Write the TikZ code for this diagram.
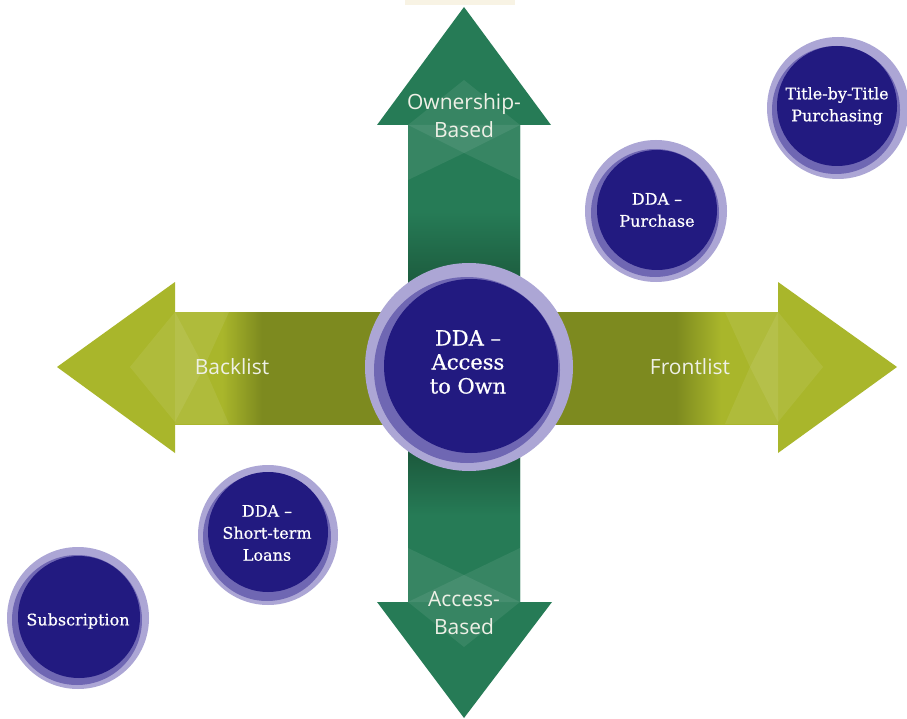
\documentclass[tikz,border=0pt]{standalone}
\usepackage{fontspec}
\newfontfamily\labelfont{Open Sans}
\newfontfamily\circfont{DejaVu Serif}[FakeBold=0.6]
\definecolor{grn}{HTML}{267B56}
\definecolor{grndark}{HTML}{1C5A3D}
\definecolor{olv}{HTML}{A9B62B}
\definecolor{olvdark}{HTML}{7D8A1F}
\definecolor{ringlight}{HTML}{ACA6D5}
\definecolor{ringmid}{HTML}{6F67B3}
\definecolor{navy}{HTML}{221A80}
\definecolor{labtxt}{HTML}{EEF0E6}
\definecolor{cream}{HTML}{F8F3E4}
\pgfdeclarehorizontalshading{olvshaft}{100bp}{color(0bp)=(olv); color(25bp)=(olv);
  color(28.9bp)=(olv); color(32.2bp)=(olvdark); color(66.5bp)=(olvdark);
  color(70.3bp)=(olv); color(75bp)=(olv); color(100bp)=(olv)}
\pgfdeclareverticalshading{grnshaft}{100bp}{color(0bp)=(grn); color(25bp)=(grn);
  color(34.1bp)=(grn); color(40.5bp)=(grndark); color(58.1bp)=(grndark);
  color(65.9bp)=(grn); color(75bp)=(grn); color(100bp)=(grn)}
\tikzset{
  arrlabel/.style={text=labtxt, font=\labelfont\fontsize{21}{28}\selectfont, align=center, inner sep=0pt},
  circtxt/.style={text=white, font=\circfont\fontsize{16}{22}\selectfont, align=center, inner sep=0pt},
  bigtxt/.style={text=white, font=\circfont\fontsize{21}{24}\selectfont, align=center, inner sep=0pt},
  gloss/.style={fill=white, fill opacity=0.08, draw=none},
  outerring/.style={circle, fill=ringlight, draw=none, inner sep=0pt},
}
\begin{document}
\begin{tikzpicture}[x=1pt,y=-1pt]
\useasboundingbox (0,0) rectangle (907,719);
\fill[white] (0,0) rectangle (907,719);
\fill[cream] (405,0) rectangle (515,5);
% vertical arrow (green)
\fill[grn] (464,7) -- (551,125) -- (520,125) -- (520,602) -- (552,602) -- (464,718)
  -- (377,602) -- (408,602) -- (408,125) -- (377,125) -- cycle;
\shade[shading=grnshaft] (408,125) rectangle (520,602);
% overlays top
\fill[gloss] (408,125) -- (520,125) -- (520,180) -- (464,153) -- (408,180) -- cycle;
\fill[gloss] (464,80) -- (520,125) -- (464,153) -- (408,125) -- cycle;
% overlays bottom
\fill[gloss] (408,548) -- (464,575) -- (520,548) -- (520,602) -- (408,602) -- cycle;
\fill[gloss] (464,575) -- (520,602) -- (464,647) -- (408,602) -- cycle;
% horizontal arrow (olive)
\fill[olv] (57,367) -- (175,282) -- (175,312) -- (778,312) -- (778,282) -- (897,367)
  -- (778,453) -- (778,424) -- (175,424) -- (175,453) -- cycle;
\shade[shading=olvshaft] (175,312) rectangle (778,424);
% overlays left
\fill[gloss] (229,312) -- (204,367) -- (229,424) -- (175,424) -- (175,312) -- cycle;
\fill[gloss] (204,367) -- (175,312) -- (130,367) -- (175,422) -- cycle;
% overlays right
\fill[gloss] (725,312) -- (778,312) -- (778,424) -- (725,424) -- (750,367) -- cycle;
\fill[gloss] (750,367) -- (778,312) -- (823,367) -- (778,422) -- cycle;
% arrow labels
\node[arrlabel] (own) at (464,116) {Ownership-\\Based};
\node[arrlabel] (acc) at (464,613) {Access-\\Based};
\node[arrlabel] (back) at (232,367) {Backlist};
\node[arrlabel] (front) at (690,367) {Frontlist};
% center circle
\node[outerring, minimum size=208pt] (center) at (469,367) {};
\fill[ringmid] (467,370) circle[radius=93];
\fill[navy] (471,366) circle[radius=87];
\node[bigtxt] (centertxt) at (468,362) {DDA –\\Access\\to Own};
% small circles
\node[outerring, minimum size=142pt] (purch) at (656,211) {};
\fill[ringmid] (655,213) circle[radius=64];
\fill[navy] (657,210) circle[radius=60];
\node[circtxt] (purchtxt) at (657,210) {DDA –\\Purchase};
\node[outerring, minimum size=142pt] (title) at (838,108) {};
\fill[ringmid] (836,110) circle[radius=64];
\fill[navy] (837,106) circle[radius=60];
\node[circtxt] (titletxt) at (837,106) {Title-by-Title\\Purchasing};
\node[outerring, minimum size=140pt] (loan) at (268,535) {};
\fill[ringmid] (267,537) circle[radius=64];
\fill[navy] (268,532) circle[radius=60];
\node[circtxt] (loantxt) at (267,533) {DDA –\\Short-term\\Loans};
\node[outerring, minimum size=142pt] (sub) at (78,618) {};
\fill[ringmid] (77,620) circle[radius=65];
\fill[navy] (79,617) circle[radius=61];
\node[circtxt] (subtxt) at (78,621) {Subscription};
\end{tikzpicture}
\end{document}
